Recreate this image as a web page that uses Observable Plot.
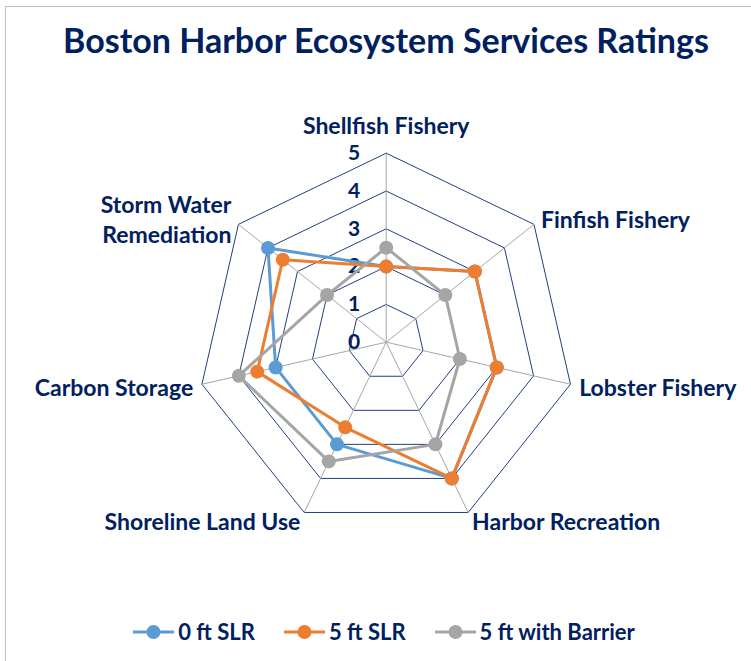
<!DOCTYPE html>
<html>
<head>
<meta charset="utf-8">
<script src="https://cdn.jsdelivr.net/npm/d3@7"></script>
<script src="https://cdn.jsdelivr.net/npm/@observablehq/plot@0.6"></script>
<style>
  html, body { margin: 0; padding: 0; background: #fff; }
  #wrap { position: relative; width: 751px; height: 661px; overflow: hidden; font-family: Lato, "Open Sans", sans-serif; }
  #frame { position: absolute; left: 5px; top: 6px; width: 800px; height: 700px; border: 1px solid #bfbfbf; box-sizing: border-box; }
  #title { position: absolute; left: 0; width: 772px; top: 19px; text-align: center; font-size: 34px; line-height: 41px; font-weight: 700; color: #002060; white-space: nowrap; }
  #chart { position: absolute; left: 0; top: 0; }
  #legend { position: absolute; left: 0; width: 768px; top: 618px; display: flex; justify-content: center; align-items: center; gap: 29px; font-size: 22px; font-weight: 700; color: #002060; line-height: 28px; }
  .item { display: flex; align-items: center; gap: 4px; }
</style>
</head>
<body>
<div id="wrap">
  <div id="frame"></div>
  <div id="chart"></div>
  <div id="title">Boston Harbor Ecosystem Services Ratings</div>
  <div id="legend"></div>
</div>
<script>
// ---- data ----
const categories = ["Shellfish Fishery", "Finfish Fishery", "Lobster Fishery", "Harbor Recreation", "Shoreline Land Use", "Carbon Storage", "Storm Water\nRemediation"];
const seriesNames = ["0 ft SLR", "5 ft SLR", "5 ft with Barrier"];
const slr0 = [2, 3, 3, 4, 3, 3, 4];
const slr5 = [2, 3, 3, 4, 2.5, 3.5, 3.5];
const barrier = [2.5, 2, 2, 3, 3.5, 4, 2];
const tickValues = [0, 1, 2, 3, 4, 5];
const seriesColors = ["#5B9BD5", "#ED7D31", "#A5A5A5"];

// ---- geometry helpers ----
const values = [slr0, slr5, barrier];
const N = categories.length;
const maxV = 5;
const ang = i => i * 2 * Math.PI / N;
const px = (r, i) => r * Math.sin(ang(i));
const py = (r, i) => r * Math.cos(ang(i));

const cx = 385.7, cy = 341.7, unit = 37.8;

const seriesPts = seriesNames.map((s, k) =>
  d3.range(N + 1).map(i => {
    const j = i % N;
    return {series: s, idx: j, v: values[k][j], x: px(values[k][j], j), y: py(values[k][j], j), closing: i === N};
  })
);

const ringPts = [];
for (const lvl of tickValues.filter(t => t > 0)) {
  for (let i = 0; i <= N; i++) ringPts.push({level: lvl, x: px(lvl, i % N), y: py(lvl, i % N)});
}

const labelR = maxV + 9 / unit;
const labels = categories.map((c, i) => {
  const s = Math.sin(ang(i));
  return {name: c, x: px(labelR, i), y: py(labelR, i), anchor: s > 0.1 ? "start" : s < -0.1 ? "end" : "middle"};
});

const navy = "#002060";
const textOpts = {fill: navy, fontWeight: 700, fontFamily: "Lato", fontSize: 23, lineHeight: 1.28};

const marks = [
  Plot.line(ringPts, {x: "x", y: "y", z: "level", stroke: "#203F80", strokeWidth: 1}),
  Plot.link(categories, {x1: 0, y1: 0, x2: (d, i) => px(maxV, i), y2: (d, i) => py(maxV, i), stroke: "#a6a6a6", strokeWidth: 1}),
  Plot.text(tickValues, {x: 0, y: d => d, text: d => String(d), textAnchor: "end", dx: -26, fill: navy, fontWeight: 700, fontFamily: "Lato", fontSize: 21}),
  Plot.text(labels.filter(d => d.anchor === "start"), {x: "x", y: "y", text: "name", textAnchor: "start", ...textOpts}),
  Plot.text(labels.filter(d => d.anchor === "end"), {x: "x", y: "y", text: "name", textAnchor: "end", ...textOpts}),
  Plot.text(labels.filter(d => d.anchor === "middle"), {x: "x", y: "y", text: "name", textAnchor: "middle", dy: -20, ...textOpts})
];
seriesPts.forEach((pts, k) => {
  marks.push(Plot.line(pts, {x: "x", y: "y", stroke: seriesColors[k], strokeWidth: 3, strokeLinejoin: "round"}));
  marks.push(Plot.dot(pts.filter(d => !d.closing), {x: "x", y: "y", r: 7, fill: seriesColors[k], stroke: "none"}));
});

const plot = Plot.plot({
  width: 751,
  height: 661,
  margin: 0,
  x: {domain: [-maxV, maxV], range: [cx - maxV * unit, cx + maxV * unit], axis: null},
  y: {domain: [-maxV, maxV], range: [cy + maxV * unit, cy - maxV * unit], axis: null},
  style: {background: "transparent", overflow: "visible"},
  marks
});
document.getElementById("chart").appendChild(plot);

// ---- legend ----
const legend = document.getElementById("legend");
seriesNames.forEach((s, k) => {
  const item = document.createElement("div");
  item.className = "item";
  item.innerHTML = `<svg width="41" height="16"><line x1="0" y1="8" x2="41" y2="8" stroke="${seriesColors[k]}" stroke-width="3"/><circle cx="20.5" cy="8" r="7" fill="${seriesColors[k]}"/></svg><span>${s}</span>`;
  legend.appendChild(item);
});
</script>
</body>
</html>
